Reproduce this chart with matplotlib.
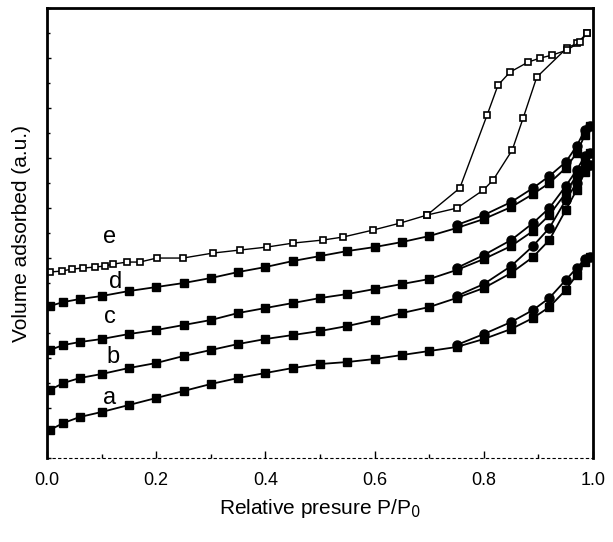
import matplotlib
matplotlib.use("Agg")
import matplotlib.pyplot as plt
from matplotlib.ticker import MultipleLocator, NullFormatter

plt.rcParams["font.family"] = ["Liberation Sans", "DejaVu Sans"]

# Relative pressure grid used by samples a-d (adsorption branch)
x_ads = [0.005, 0.03, 0.06, 0.1, 0.15, 0.2, 0.25, 0.3, 0.35, 0.4, 0.45, 0.5, 0.55,
         0.6, 0.65, 0.7, 0.75, 0.8, 0.85, 0.89, 0.92, 0.95, 0.97, 0.985, 0.995]
# desorption branch grid (from high to low pressure)
x_des = [0.995, 0.985, 0.97, 0.95, 0.92, 0.89, 0.85, 0.8, 0.75]

# Volume adsorbed (a.u.), curves are offset vertically
a_ads = [28, 35, 41, 46, 53, 60, 67, 74, 80, 85, 90, 94, 96, 99, 103, 107, 111, 119,
         129, 140, 151, 168, 183, 196, 201]
a_des = [201, 199, 190, 178, 160, 148, 136, 124, 113]

b_ads = [68, 75, 80, 84, 90, 95, 102, 108, 114, 119, 123, 127, 132, 138, 145, 151, 160,
         170, 185, 201, 218, 248, 268, 286, 293]
b_des = [293, 290, 275, 258, 230, 212, 192, 174, 162]

c_ads = [108, 113, 116, 119, 124, 128, 133, 138, 145, 150, 155, 160, 164, 169, 174, 179,
         188, 199, 212, 227, 243, 265, 283, 298, 305]
c_des = [305, 302, 288, 272, 250, 235, 218, 203, 190]

d_ads = [152, 156, 159, 162, 167, 171, 175, 180, 186, 191, 197, 202, 207, 211, 216, 222,
         230, 239, 251, 264, 275, 290, 305, 323, 332]
d_des = [332, 328, 312, 296, 282, 270, 256, 243, 233]

# Sample e has its own pressure points and a large hysteresis loop
e_x_ads = [0.005, 0.027, 0.046, 0.066, 0.088, 0.106, 0.121, 0.147, 0.170, 0.201, 0.249,
           0.304, 0.353, 0.403, 0.451, 0.505, 0.542, 0.597, 0.647, 0.696, 0.751, 0.799,
           0.817, 0.852, 0.872, 0.897, 0.952, 0.971, 0.989]
e_ads = [186, 187, 189, 190, 191, 192, 194, 196, 196, 200, 200, 205, 208, 211, 215, 218,
         221, 228, 235, 243, 250, 268, 278, 308, 340, 381, 410, 415, 425]
e_x_des = [0.989, 0.976, 0.952, 0.925, 0.903, 0.881, 0.848, 0.826, 0.806, 0.756, 0.696]
e_des = [425, 416, 408, 403, 400, 396, 386, 373, 343, 270, 243]

labels = ["a", "b", "c", "d", "e"]
label_pos = [(0.115, 60), (0.12, 101), (0.115, 141), (0.125, 176), (0.115, 221)]

fig = plt.figure(figsize=(6.13, 5.42), dpi=100)
ax = fig.add_axes([0.0767, 0.155, 0.8907, 0.83])

# filled curves a-d
for ads, des in [(a_ads, a_des), (b_ads, b_des), (c_ads, c_des), (d_ads, d_des)]:
    ax.plot(x_ads, ads, color="black", lw=1.3, marker="s", ms=6, mfc="black", mec="black")
    ax.plot(x_des, des, color="black", lw=1.3, marker="o", ms=6.5, mfc="black", mec="black")

# open squares curve e
ax.plot(e_x_ads, e_ads, color="black", lw=1.0, marker="s", ms=5, mfc="white", mec="black", mew=1.2)
ax.plot(e_x_des, e_des, color="black", lw=1.0, marker="s", ms=5, mfc="white", mec="black", mew=1.2)

for lab, (lx, ly) in zip(labels, label_pos):
    ax.text(lx, ly, lab, fontsize=17, ha="center", va="center")

ax.set_xlim(0, 1.0)
ax.set_ylim(0, 450)
ax.xaxis.set_major_locator(MultipleLocator(0.2))
ax.xaxis.set_minor_locator(MultipleLocator(0.1))
ax.yaxis.set_major_locator(MultipleLocator(50))
ax.yaxis.set_minor_locator(MultipleLocator(25))
ax.yaxis.set_major_formatter(NullFormatter())
ax.tick_params(axis="both", which="both", direction="in", width=1.0)
ax.tick_params(axis="x", which="major", length=5, labelsize=13, pad=10)
ax.tick_params(axis="x", which="minor", length=3)
ax.tick_params(axis="y", which="major", length=3)
ax.tick_params(axis="y", which="minor", length=2)
ax.xaxis.set_major_formatter(matplotlib.ticker.FormatStrFormatter("%.1f"))

for side in ["left", "right", "top"]:
    ax.spines[side].set_linewidth(2.0)
ax.spines["bottom"].set_linewidth(0.8)
ax.spines["bottom"].set_linestyle((0, (2, 3)))

ax.set_xlabel("Relative presure P/P$_0$", fontsize=15, labelpad=6)
ax.set_ylabel("Volume adsorbed (a.u.)", fontsize=15, labelpad=8)

fig.savefig("out.png", dpi=100)
